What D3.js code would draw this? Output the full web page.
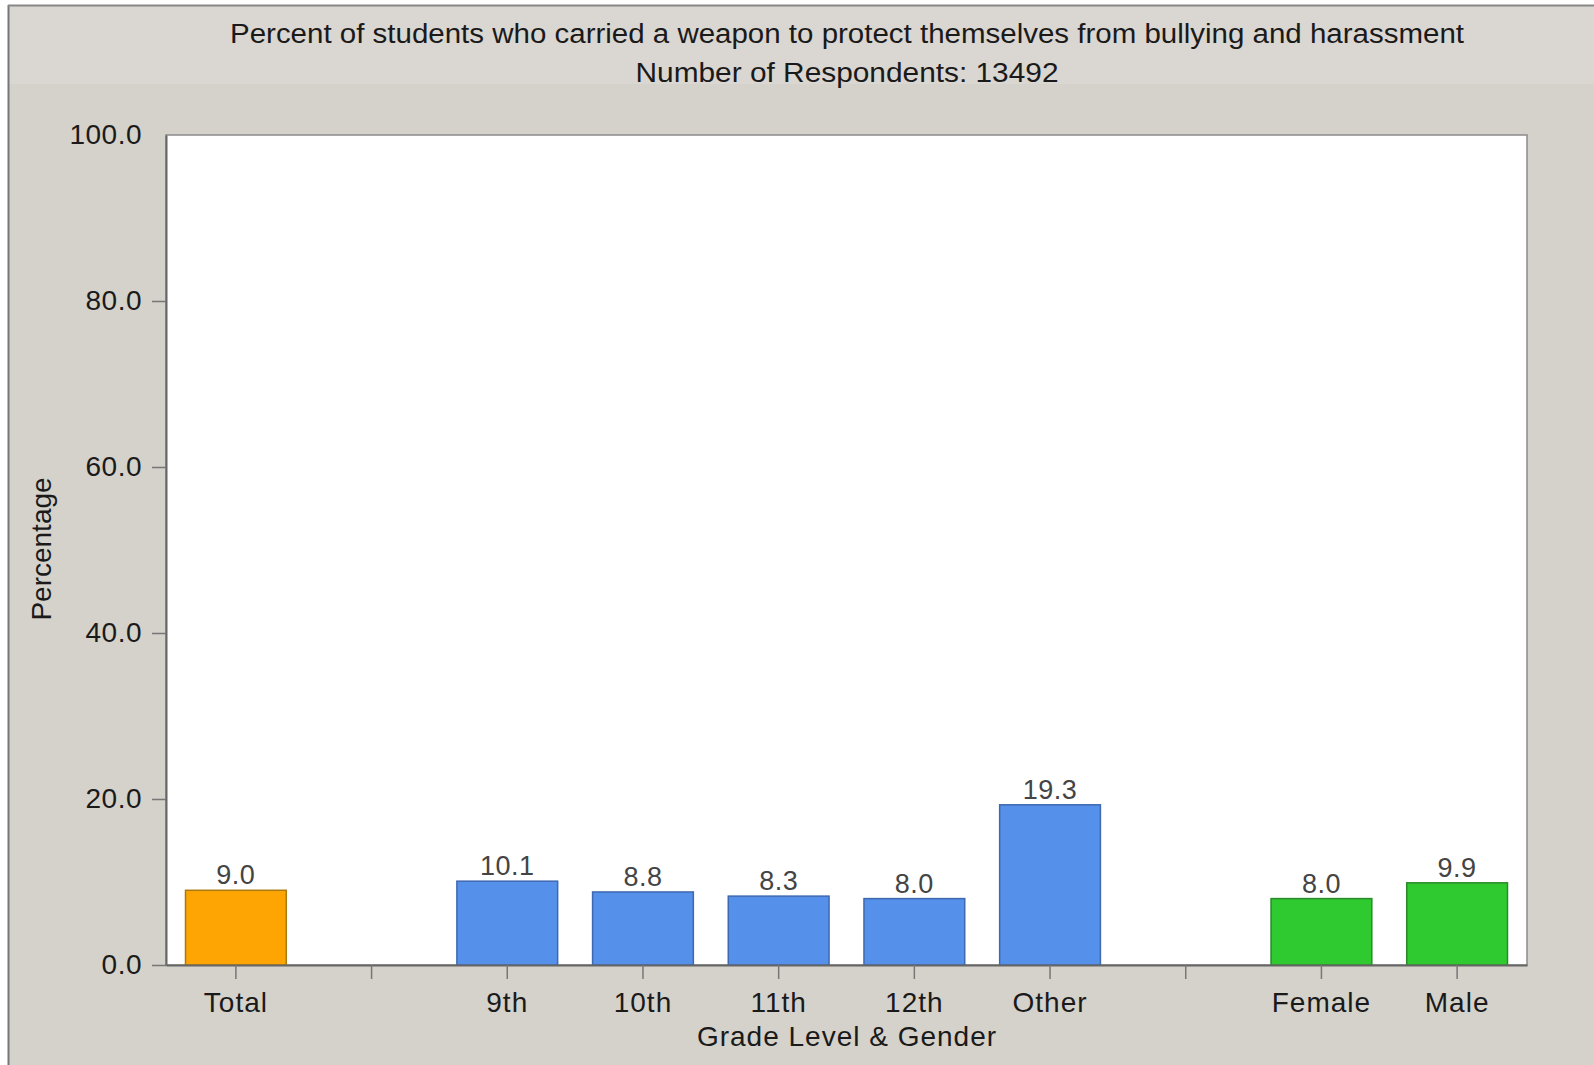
<!DOCTYPE html>
<html>
<head>
<meta charset="utf-8">
<script src="https://cdn.jsdelivr.net/npm/d3@7"></script>
<style>
  html, body { margin: 0; padding: 0; background: #ffffff; }
  svg { display: block; }
  text { font-family: "Liberation Sans", Arial, sans-serif; }
</style>
</head>
<body>
<script>
// ---- data ----
const titleLines = [
  "Percent of students who carried a weapon to protect themselves from bullying and harassment",
  "Number of Respondents: 13492"
];
const xAxisTitle = "Grade Level & Gender";
const yAxisTitle = "Percentage";
const slots = ["Total", "gap1", "9th", "10th", "11th", "12th", "Other", "gap2", "Female", "Male"];
const categories = ["Total", "9th", "10th", "11th", "12th", "Other", "Female", "Male"];
const values = [9.0, 10.1, 8.8, 8.3, 8.0, 19.3, 8.0, 9.9];
const groups = ["total", "grade", "grade", "grade", "grade", "grade", "gender", "gender"];
const yTicks = [0, 20, 40, 60, 80, 100];

// ---- styles ----
const W = 1594, H = 1065;
const plot = { left: 166, right: 1527, top: 135, bottom: 965 };
const fill = { total: "#FFA503", grade: "#5590EA", gender: "#2FCA2F" };
const stroke = { total: "#A97A10", grade: "#3E68B0", gender: "#2A8A2A" };

const svg = d3.select("body").append("svg").attr("width", W).attr("height", H);

// outer panel
svg.append("rect").attr("x", 0).attr("y", 0).attr("width", W).attr("height", H).attr("fill", "#ffffff");
svg.append("rect").attr("x", 8).attr("y", 5).attr("width", W - 8).attr("height", H - 5).attr("fill", "#D5D1CB");
svg.append("rect").attr("x", 9).attr("y", 6).attr("width", W - 9).attr("height", 78).attr("fill", "#DAD6D1");
svg.append("line").attr("x1", 8.5).attr("x2", 8.5).attr("y1", 5).attr("y2", H).attr("stroke", "#777").attr("stroke-width", 2);
svg.append("line").attr("x1", 8).attr("x2", W).attr("y1", 5.5).attr("y2", 5.5).attr("stroke", "#888").attr("stroke-width", 2);

// plot area
svg.append("rect").attr("x", plot.left).attr("y", plot.top)
  .attr("width", plot.right - plot.left).attr("height", plot.bottom - plot.top)
  .attr("fill", "#ffffff").attr("stroke", "#8a8a8a").attr("stroke-width", 1.5);

const x = d3.scaleBand().domain(slots).range([plot.left, plot.right]).paddingInner(0.25).paddingOuter(0.14);
const y = d3.scaleLinear().domain([0, 100]).range([plot.bottom, plot.top]);

// titles
svg.append("text").attr("x", 847).attr("y", 43).attr("text-anchor", "middle")
  .attr("font-size", 27).attr("fill", "#1a1a1a")
  .attr("textLength", 1234).attr("lengthAdjust", "spacingAndGlyphs").text(titleLines[0]);
svg.append("text").attr("x", 847).attr("y", 82).attr("text-anchor", "middle")
  .attr("font-size", 27).attr("fill", "#1a1a1a")
  .attr("textLength", 423).attr("lengthAdjust", "spacingAndGlyphs").text(titleLines[1]);

// bars
const data = categories.map((c, i) => ({ c, v: values[i], g: groups[i] }));
svg.append("g").selectAll("rect").data(data).join("rect")
  .attr("x", d => x(d.c) + 0.5)
  .attr("y", d => y(d.v))
  .attr("width", x.bandwidth() - 1)
  .attr("height", d => y(0) - y(d.v))
  .attr("fill", d => fill[d.g])
  .attr("stroke", d => stroke[d.g])
  .attr("stroke-width", 1.5);

// value labels
svg.append("g").selectAll("text").data(data).join("text")
  .attr("x", d => x(d.c) + x.bandwidth() / 2)
  .attr("y", d => y(d.v) - 6)
  .attr("text-anchor", "middle")
  .attr("font-size", 27).attr("fill", "#444").attr("letter-spacing", 0.5)
  .text(d => d.v.toFixed(1));

// x axis
const xAxis = svg.append("g").attr("transform", `translate(0,${plot.bottom})`)
  .call(d3.axisBottom(x).tickSizeInner(14).tickSizeOuter(0).tickPadding(13)
    .tickFormat(d => d.startsWith("gap") ? "" : d));
xAxis.select(".domain").attr("stroke", "#666").attr("stroke-width", 2);
xAxis.selectAll(".tick line").attr("stroke", "#777").attr("stroke-width", 1.5);
xAxis.selectAll(".tick text").attr("font-size", 28).attr("fill", "#1a1a1a").attr("letter-spacing", 1)
  .attr("font-family", "Liberation Sans, Arial, sans-serif");

// y axis
const yAxis = svg.append("g").attr("transform", `translate(${plot.left},0)`)
  .call(d3.axisLeft(y).tickValues(yTicks).tickSizeInner(14).tickSizeOuter(0).tickPadding(10).tickFormat(d3.format(".1f")));
yAxis.select(".domain").attr("stroke", "#666").attr("stroke-width", 2);
yAxis.selectAll(".tick line").attr("stroke", "#777").attr("stroke-width", 1.5)
  .attr("display", d => d === 100 ? "none" : null);
yAxis.selectAll(".tick text").attr("font-size", 28).attr("fill", "#1a1a1a").attr("letter-spacing", 0.5)
  .attr("font-family", "Liberation Sans, Arial, sans-serif");

// axis titles
svg.append("text").attr("x", 847).attr("y", 1046).attr("text-anchor", "middle")
  .attr("font-size", 28).attr("fill", "#1a1a1a").attr("letter-spacing", 1).text(xAxisTitle);
svg.append("text").attr("transform", "translate(51,549) rotate(-90)").attr("text-anchor", "middle")
  .attr("font-size", 28).attr("fill", "#1a1a1a").text(yAxisTitle);
</script>
</body>
</html>
